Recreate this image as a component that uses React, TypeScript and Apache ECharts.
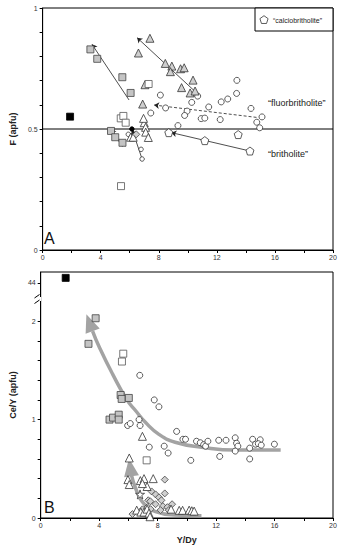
import React, { useEffect, useRef } from "react";
import * as echarts from "echarts";

// ---------- Panel A: F (apfu) vs Y/Dy ----------
const aBlackSquare = [[1.89, 0.551]];
const aGreySquares = [[3.29, 0.829], [3.76, 0.79], [5.49, 0.714], [6.06, 0.649], [4.71, 0.492], [5.0, 0.466], [5.5, 0.443]];
const aWhiteSquares = [[7.3, 0.686], [5.38, 0.544], [5.56, 0.554], [5.72, 0.526], [5.4, 0.264]];
const aGreyTriangles = [[7.39, 0.875], [6.6, 0.814], [8.45, 0.771], [8.9, 0.76], [8.8, 0.737], [9.5, 0.749], [9.75, 0.753], [10.36, 0.702], [9.57, 0.671], [10.16, 0.649], [10.5, 0.657], [6.89, 0.603], [7.05, 0.683]];
const aWhiteTriangles = [[7.0, 0.526], [7.09, 0.507], [7.1, 0.487], [7.28, 0.465], [6.06, 0.466], [6.24, 0.466], [6.95, 0.544]];
const aCircles = [[10.68, 0.636], [13.38, 0.701], [13.36, 0.647], [12.75, 0.624], [12.3, 0.612], [11.44, 0.591], [10.27, 0.61], [8.11, 0.64], [8.47, 0.587], [7.45, 0.566], [9.95, 0.574], [9.78, 0.556], [10.92, 0.543], [11.17, 0.545], [12.23, 0.539], [14.35, 0.585], [15.11, 0.55], [14.75, 0.528], [14.95, 0.505], [9.32, 0.514]];
const aSmallCircles = [[6.78, 0.416], [6.85, 0.376], [5.9, 0.478]];
const aBlackDot = [[6.15, 0.5]];
const aDiamonds = [[6.45, 0.478]];
const aPentagons = [[8.69, 0.485], [11.17, 0.452], [14.28, 0.409], [13.47, 0.477]];
const aArrows = [
  [[5.95, 0.62], [3.4, 0.85]],
  [[10.68, 0.645], [6.51, 0.877]],
  [[14.28, 0.409], [8.87, 0.485]],
  [[5.5, 0.427], [4.71, 0.499]],
  [[6.85, 0.376], [6.17, 0.497]],
  [[7.3, 0.46], [6.92, 0.55]],
];
const aDashedArrows = [[[14.73, 0.548], [7.68, 0.599]]];
const aRefLine = [[0, 0.5], [20, 0.5]];

// ---------- Panel B: Ce/Y (apfu) vs Y/Dy ----------
const bBlackSquare = [[1.71, 44.5]];
const bGreySquares = [[3.76, 2.03], [3.27, 1.77], [5.47, 1.25], [5.54, 1.21], [6.03, 1.22], [4.71, 1.0], [4.95, 1.02], [5.34, 1.05], [5.34, 1.0]];
const bWhiteSquares = [[5.65, 1.67], [5.56, 1.59], [7.25, 0.586]];
const bCircles = [[6.78, 1.45], [7.77, 1.2], [8.09, 1.13], [5.95, 0.94], [6.13, 0.96], [6.73, 1.0], [6.8, 0.94], [7.43, 0.72], [8.45, 0.73], [8.72, 0.66], [9.3, 0.88], [9.73, 0.8], [9.91, 0.8], [10.66, 0.78], [10.92, 0.765], [11.15, 0.745], [11.28, 0.73], [11.44, 0.78], [10.27, 0.586], [12.18, 0.79], [12.68, 0.79], [12.25, 0.626], [13.31, 0.815], [13.4, 0.76], [13.49, 0.73], [13.31, 0.68], [14.3, 0.71], [14.3, 0.6], [14.5, 0.8], [14.7, 0.75], [15.02, 0.795], [14.89, 0.755], [15.09, 0.74], [15.99, 0.75]];
const bTriangles = [[6.96, 0.83], [6.06, 0.61], [5.97, 0.39], [6.06, 0.34], [6.82, 0.38], [7.07, 0.4], [7.28, 0.32], [7.7, 0.4], [6.96, 0.35], [6.57, 0.08], [6.85, 0.06], [7.07, 0.06], [7.28, 0.09], [7.41, 0.05], [8.92, 0.09], [9.48, 0.078], [9.71, 0.078], [10.16, 0.08], [10.34, 0.074], [10.5, 0.07], [7.48, 0.013]];
const bStars = [[6.8, 0.24]];
const bDiamonds = [[8.49, 0.39], [7.59, 0.27], [7.86, 0.24], [8.09, 0.21], [8.49, 0.25], [7.36, 0.18], [7.5, 0.17], [8.26, 0.18], [8.36, 0.12], [8.67, 0.11], [8.99, 0.14], [7.3, 0.11], [7.52, 0.09], [6.28, 0.04], [7.86, 0.14], [8.2, 0.08], [6.96, 0.088], [8.76, 0.08]];
const bTrendHigh = [[16.42, 0.69], [13.3, 0.69], [11.0, 0.72], [9.2, 0.77], [8.09, 0.85], [7.18, 0.97], [6.5, 1.09], [5.9, 1.2], [4.93, 1.46], [4.03, 1.73], [3.55, 1.9]];
const bTrendHighTip = [3.13, 2.07];
const bTrendLow = [[11.0, 0.023], [9.2, 0.03], [7.86, 0.064], [6.96, 0.165], [6.5, 0.3], [6.2, 0.44]];
const bTrendLowTip = [6.05, 0.6];

// tick labels
const xLabels = [0, 4, 8, 12, 16, 20];
const aYLabels = [0, 0.5, 1];
const bYLabels = [0, 1, 2, 44];
const bBreakValue = 44; // shown just above 2 after an axis break
const BREAK_POS = 2.39;
const mapB = (v: number) => (v > 10 ? BREAK_POS + (v - bBreakValue) * 0.1 : v);

const FONT = "'Liberation Sans', Arial, sans-serif";
const KX = 296 / 20;
const KYB = 246 / 2.5;

const PENTAGON = "path://M0,-1L0.951,-0.309L0.588,0.809L-0.588,0.809L-0.951,-0.309Z";
const STAR = "path://M0,-1L0.225,-0.309L0.951,-0.309L0.363,0.118L0.588,0.809L0,0.382L-0.588,0.809L-0.363,0.118L-0.951,-0.309L-0.225,-0.309Z";

function arrowHead(from: number[], tip: number[], len: number) {
  const dx = (tip[0] - from[0]) * KX;
  const dy = (tip[1] - from[1]) * KYB;
  const L = Math.hypot(dx, dy);
  const ux = dx / L, uy = dy / L;
  return {
    value: [tip[0] - (ux * len) / 2 / KX, tip[1] - (uy * len) / 2 / KYB],
    symbolRotate: (Math.atan2(-ux, uy) * 180) / Math.PI,
  };
}

function sc(data: number[][], gi: number, symbol: string, size: number | number[], fill: string, stroke: string, bw = 0.8) {
  return {
    type: "scatter",
    xAxisIndex: gi,
    yAxisIndex: gi,
    data,
    symbol,
    symbolSize: size,
    itemStyle: { color: fill, borderColor: stroke, borderWidth: bw, opacity: 1 },
    z: 4,
    silent: true,
  };
}

export default function App() {
  const ref = useRef<HTMLDivElement>(null);
  useEffect(() => {
    document.body.style.margin = "0";
    const chart = echarts.init(ref.current!, null, { renderer: "svg" });
    const axisCommon = {
      axisLine: { show: true, lineStyle: { color: "#000", width: 1 } },
      splitLine: { show: false },
    };
    const xAxis = (gi: number, name?: string) => ({
      type: "value",
      gridIndex: gi,
      min: 0,
      max: 20,
      interval: 2,
      ...axisCommon,
      axisTick: { show: true, length: 3, lineStyle: { color: "#000" } },
      axisLabel: {
        fontSize: 7,
        color: "#333",
        fontFamily: FONT,
        margin: 4,
        formatter: (v: number) => (xLabels.indexOf(v) >= 0 ? String(v) : ""),
      },
      name: name || "",
      nameLocation: "middle",
      nameGap: 17,
      nameTextStyle: { fontSize: 9, fontWeight: "bold", color: "#222", fontFamily: FONT },
    });
    const ticksA = Array.from({ length: 11 }, (_, i) => i / 10);
    const ticksB = Array.from({ length: 11 }, (_, i) => i / 5).concat([BREAK_POS]);
    const option = {
      animation: false,
      backgroundColor: "#fff",
      grid: [
        { left: 37, right: 7, top: 8, height: 242, show: true, borderColor: "#000", borderWidth: 1 },
        { left: 37, right: 7, top: 272, height: 246, show: true, borderColor: "#000", borderWidth: 1 },
      ],
      xAxis: [xAxis(0), xAxis(1, "Y/Dy")],
      yAxis: [
        {
          type: "value",
          gridIndex: 0,
          min: 0,
          max: 1,
          ...axisCommon,
          axisTick: { show: true, length: 3, customValues: ticksA, lineStyle: { color: "#000" } },
          axisLabel: { fontSize: 7, color: "#333", fontFamily: FONT, margin: 5, customValues: aYLabels, formatter: (v: number) => String(v) },
          name: "F (apfu)",
          nameLocation: "middle",
          nameGap: 17,
          nameTextStyle: { fontSize: 9, fontWeight: "bold", color: "#222", fontFamily: FONT },
        },
        {
          type: "value",
          gridIndex: 1,
          min: 0,
          max: 2.5,
          ...axisCommon,
          axisTick: { show: true, length: 3, customValues: ticksB, lineStyle: { color: "#000" } },
          axisLabel: {
            fontSize: 7,
            color: "#333",
            fontFamily: FONT,
            margin: 5,
            customValues: bYLabels.map(mapB),
            formatter: (v: number) => (v > 2.2 ? String(bBreakValue) : String(v)),
          },
          name: "Ce/Y (apfu)",
          nameLocation: "middle",
          nameGap: 17,
          nameTextStyle: { fontSize: 9, fontWeight: "bold", color: "#222", fontFamily: FONT },
        },
      ],
      series: [
        // Panel A
        { type: "line", xAxisIndex: 0, yAxisIndex: 0, data: aRefLine, showSymbol: false, lineStyle: { color: "#000", width: 1 }, z: 2, silent: true },
        {
          type: "lines", coordinateSystem: "cartesian2d", xAxisIndex: 0, yAxisIndex: 0,
          symbol: ["none", "arrow"], symbolSize: 5,
          lineStyle: { color: "#222", width: 0.8, opacity: 1 },
          data: aArrows.map((c) => ({ coords: c })), z: 3, silent: true,
        },
        {
          type: "lines", coordinateSystem: "cartesian2d", xAxisIndex: 0, yAxisIndex: 0,
          symbol: ["none", "arrow"], symbolSize: 5,
          lineStyle: { color: "#222", width: 0.8, type: [3, 2], opacity: 1 },
          data: aDashedArrows.map((c) => ({ coords: c })), z: 3, silent: true,
        },
        sc(aCircles, 0, "circle", 6, "#fff", "#333"),
        sc(aSmallCircles, 0, "circle", 4.5, "#fff", "#333"),
        sc(aPentagons, 0, PENTAGON, 8, "#fff", "#333"),
        sc(aGreyTriangles, 0, "triangle", 8, "#cfcfcf", "#333"),
        sc(aWhiteTriangles, 0, "triangle", 8, "#fff", "#333"),
        sc(aGreySquares, 0, "rect", 7, "#c4c4c4", "#444"),
        sc(aWhiteSquares, 0, "rect", 7, "#fff", "#555"),
        sc(aDiamonds, 0, "diamond", 7, "#cfcfcf", "#444"),
        sc(aBlackDot, 0, "circle", 4.5, "#000", "#000"),
        sc(aBlackSquare, 0, "rect", 7, "#000", "#000"),
        // Panel B
        { type: "line", xAxisIndex: 1, yAxisIndex: 1, data: bTrendHigh, smooth: true, showSymbol: false, lineStyle: { color: "#a3a3a3", width: 3.5 }, z: 2, silent: true },
        { type: "line", xAxisIndex: 1, yAxisIndex: 1, data: bTrendLow, smooth: true, showSymbol: false, lineStyle: { color: "#a3a3a3", width: 3.5 }, z: 2, silent: true },
        {
          type: "scatter", xAxisIndex: 1, yAxisIndex: 1, symbol: "triangle", symbolSize: [15, 18],
          itemStyle: { color: "#a3a3a3", opacity: 1 }, z: 2, silent: true,
          data: [arrowHead(bTrendHigh[bTrendHigh.length - 1], bTrendHighTip, 18), arrowHead(bTrendLow[bTrendLow.length - 1], bTrendLowTip, 17)],
        },
        sc(bCircles, 1, "circle", 6, "#fff", "#333"),
        sc(bDiamonds, 1, "diamond", 7, "#cfcfcf", "#444"),
        sc(bTriangles, 1, "triangle", 8, "#fff", "#333"),
        sc(bStars, 1, STAR, 9, "#fff", "#333"),
        sc(bGreySquares, 1, "rect", 7, "#c4c4c4", "#444"),
        sc(bWhiteSquares, 1, "rect", 7, "#fff", "#555"),
        sc(bBlackSquare.map((p) => [p[0], mapB(p[1])]), 1, "rect", 7, "#000", "#000"),
      ],
      graphic: [
        // legend box
        { type: "rect", z: 100, shape: { x: 255, y: 8, width: 78, height: 23 }, style: { fill: "#fff", stroke: "#000", lineWidth: 1 } },
        {
          type: "polygon", z: 101,
          shape: { points: [0, 1, 2, 3, 4].map((i) => { const a = -Math.PI / 2 + (i * 2 * Math.PI) / 5; return [264 + 4.3 * Math.cos(a), 20 + 4.3 * Math.sin(a)]; }) },
          style: { fill: "#fff", stroke: "#333", lineWidth: 0.8 },
        },
        { type: "text", z: 101, x: 273, y: 20, style: { text: "\u201ccalciobritholite\u201d", font: `7px ${FONT}`, fill: "#222", verticalAlign: "middle" } },
        { type: "text", z: 101, x: 268, y: 103, style: { text: "\u201cfluorbritholite\u201d", font: `9px ${FONT}`, fill: "#222", verticalAlign: "middle" } },
        { type: "text", z: 101, x: 268, y: 154, style: { text: "\u201cbritholite\u201d", font: `9px ${FONT}`, fill: "#222", verticalAlign: "middle" } },
        { type: "text", z: 101, x: 44, y: 238, style: { text: "A", font: `16px ${FONT}`, fill: "#111", verticalAlign: "middle" } },
        { type: "text", z: 101, x: 44, y: 507, style: { text: "B", font: `16px ${FONT}`, fill: "#111", verticalAlign: "middle" } },
        // axis break marks on panel B y-axis
        { type: "rect", z: 100, shape: { x: 33, y: 297, width: 8, height: 4 }, style: { fill: "#fff" } },
        { type: "line", z: 101, shape: { x1: 34.5, y1: 298, x2: 39.5, y2: 294.5 }, style: { stroke: "#000", lineWidth: 1 } },
        { type: "line", z: 101, shape: { x1: 34.5, y1: 303.5, x2: 39.5, y2: 300 }, style: { stroke: "#000", lineWidth: 1 } },
      ],
    };
    chart.setOption(option as any);
    return () => chart.dispose();
  }, []);
  return <div ref={ref} style={{ width: 340, height: 550 }} />;
}
